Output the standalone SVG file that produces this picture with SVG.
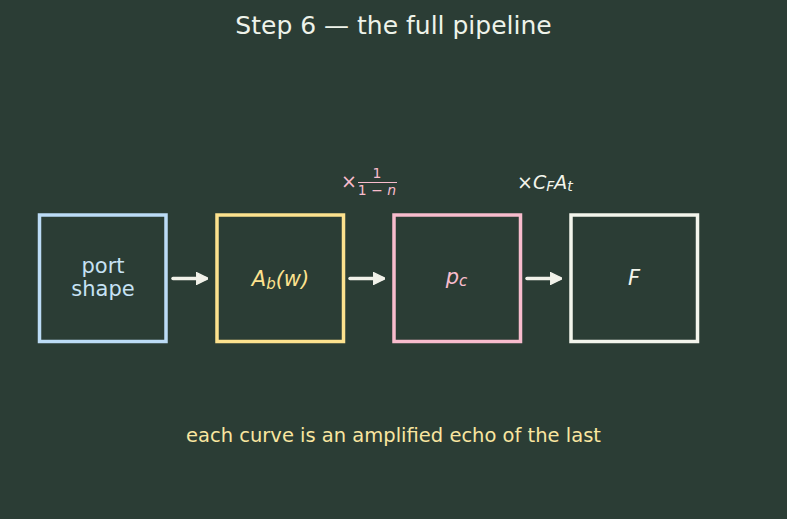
<svg xmlns="http://www.w3.org/2000/svg" width="787" height="519" viewBox="0 0 787 519">
<defs>
<style>
text{font-family:"DejaVu Sans",sans-serif;}
.box{fill:none;stroke-width:3.5;}
.lbl{font-size:21px;text-anchor:middle;}
.it{font-style:italic;}
.arr{stroke:#f2f2ea;stroke-width:3.5;fill:none;stroke-linecap:round;}
</style>
<marker id="ah" viewBox="0 0 10 10" refX="8" refY="5" markerWidth="3.5" markerHeight="3.5" orient="auto" markerUnits="strokeWidth">
<path d="M0,0 L10,5 L0,10 Z" fill="#f2f2ea" stroke="#f2f2ea" stroke-width="1" stroke-linejoin="round"/>
</marker>
</defs>
<rect width="787" height="519" fill="#2b3d35"/>
<text x="393.5" y="34" font-size="25" text-anchor="middle" fill="#eef3ea">Step 6 — the full pipeline</text>

<g id="n1">
<rect class="box" x="39.5" y="215" width="126.5" height="126.5" stroke="#bcdcf6"/>
<text class="lbl" x="103" y="273" fill="#c6e2f4">port</text>
<text class="lbl" x="103" y="296" fill="#c6e2f4">shape</text>
</g>
<g id="n2">
<rect class="box" x="217" y="215" width="126.5" height="126.5" stroke="#fde28e"/>
<text class="lbl it" x="280.5" y="286" fill="#fde28e">A<tspan font-size="15" dy="3">b</tspan><tspan dy="-3">(w)</tspan></text>
</g>
<g id="n3">
<rect class="box" x="394" y="215" width="126.5" height="126.5" stroke="#f8bccd"/>
<text class="lbl it" x="456.5" y="284" fill="#f8bccd">p<tspan font-size="15" dy="2">c</tspan></text>
</g>
<g id="n4">
<rect class="box" x="571" y="215" width="126.5" height="126.5" stroke="#f3f5ec"/>
<text class="lbl it" x="634" y="285" fill="#f3f5ec">F</text>
</g>

<g id="connectors">
<line class="arr" x1="173" y1="278.5" x2="206" y2="278.5" marker-end="url(#ah)"/>
<line class="arr" x1="350" y1="278.5" x2="383" y2="278.5" marker-end="url(#ah)"/>
<line class="arr" x1="527" y1="278.5" x2="560" y2="278.5" marker-end="url(#ah)"/>
</g>

<g id="labels">
<text x="341" y="188" font-size="19" fill="#f8bccd">×</text>
<text x="377" y="178" font-size="14" text-anchor="middle" fill="#f8bccd">1</text>
<line x1="358" y1="182.5" x2="397" y2="182.5" stroke="#f8bccd" stroke-width="1"/>
<text x="377" y="195" font-size="14" text-anchor="middle" fill="#f8bccd">1 − <tspan font-style="italic">n</tspan></text>
<text x="517" y="189" font-size="19" fill="#f3f5ec">×<tspan font-style="italic">C</tspan><tspan font-style="italic" font-size="14" dy="2">F</tspan><tspan font-style="italic" dy="-2">A</tspan><tspan font-style="italic" font-size="14" dy="2">t</tspan></text>
</g>

<text x="393.5" y="442" font-size="19.5" text-anchor="middle" fill="#f9e6a0">each curve is an amplified echo of the last</text>
</svg>
